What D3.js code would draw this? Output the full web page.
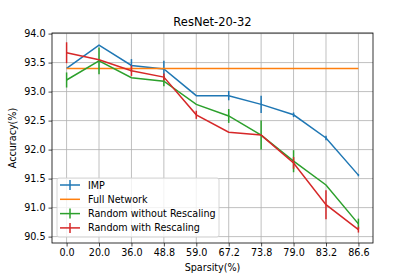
<!DOCTYPE html>
<html><head><meta charset="utf-8">
<script src="https://cdn.jsdelivr.net/npm/d3@7"></script>
<style>body{margin:0;background:#fff}svg{display:block;font-family:"DejaVu Sans",sans-serif}</style>
</head><body><svg id="c" width="415" height="277"></svg>
<script>
const categories = ["0.0","20.0","36.0","48.8","59.0","67.2","73.8","79.0","83.2","86.6"];
const impValues = [93.40,93.80,93.45,93.39,92.93,92.93,92.78,92.60,92.20,91.56];
const impErrors = [0,0,0.11,0.14,0,0.08,0.15,0.04,0.04,0.02];
const fullValues = [93.40,93.40,93.40,93.40,93.40,93.40,93.40,93.40,93.40,93.40];
const noRescaleValues = [93.20,93.53,93.24,93.18,92.78,92.58,92.25,91.80,91.39,90.72];
const noRescaleErrors = [0.13,0.23,0,0.09,0,0.12,0.25,0.19,0,0.09];
const rescaleValues = [93.67,93.55,93.36,93.25,92.60,92.30,92.25,91.77,91.05,90.62];
const rescaleErrors = [0.18,0,0.09,0.06,0.07,0,0,0.10,0.25,0.05];
const yTicks = [90.5,91.0,91.5,92.0,92.5,93.0,93.5,94.0];

const series = [
  {name:"IMP", color:"#1f77b4", values:impValues, errors:impErrors, bars:true},
  {name:"Full Network", color:"#ff7f0e", values:fullValues, errors:null, bars:false},
  {name:"Random without Rescaling", color:"#2ca02c", values:noRescaleValues, errors:noRescaleErrors, bars:true},
  {name:"Random with Rescaling", color:"#d62728", values:rescaleValues, errors:rescaleErrors, bars:true}
];

const svg = d3.select("#c");
const L=52, R=373, T=33, B=243;
const x = d3.scaleLinear().domain([-0.45, 9.45]).range([L,R]);
const y = d3.scaleLinear().domain([90.39, 94.01]).range([B,T]);

// grid
const g = svg.append("g");
g.selectAll(".vg").data(categories).join("line")
  .attr("x1",(d,i)=>x(i)).attr("x2",(d,i)=>x(i)).attr("y1",T).attr("y2",B)
  .attr("stroke","#b0b0b0").attr("stroke-width",0.8);
g.selectAll(".hg").data(yTicks).join("line")
  .attr("x1",L).attr("x2",R).attr("y1",d=>y(d)).attr("y2",d=>y(d))
  .attr("stroke","#b0b0b0").attr("stroke-width",0.8);

// series
const line = d3.line().x((d,i)=>x(i)).y(d=>y(d));
series.forEach(s=>{
  svg.append("path").datum(s.values).attr("d",line).attr("fill","none")
    .attr("stroke",s.color).attr("stroke-width",1.5);
  if(s.errors){
    svg.append("g").selectAll("line").data(s.values).join("line")
      .attr("x1",(d,i)=>x(i)).attr("x2",(d,i)=>x(i))
      .attr("y1",(d,i)=>y(d-s.errors[i])).attr("y2",(d,i)=>y(d+s.errors[i]))
      .attr("stroke",s.color).attr("stroke-width",1.5);
  }
});

// axes
const xAxis = d3.axisBottom(x).tickValues(d3.range(categories.length)).tickFormat(i=>categories[i]).tickSize(3.5).tickPadding(3);
const yAxis = d3.axisLeft(y).tickValues(yTicks).tickFormat(d3.format(".1f")).tickSize(3.5).tickPadding(3);
const xa = svg.append("g").attr("transform",`translate(0,${B})`).call(xAxis);
const ya = svg.append("g").attr("transform",`translate(${L},0)`).call(yAxis);
[xa,ya].forEach(a=>{
  a.select(".domain").remove();
  a.selectAll("text").attr("font-size",9.6).attr("fill","#000").attr("font-family","DejaVu Sans");
  a.selectAll(".tick line").attr("stroke","#000").attr("stroke-width",0.7);
});
svg.append("rect").attr("x",L).attr("y",T).attr("width",R-L).attr("height",B-T)
  .attr("fill","none").attr("stroke","#000").attr("stroke-width",0.8);

// labels
svg.append("text").attr("x",(L+R)/2).attr("y",26).attr("text-anchor","middle")
  .attr("font-size",11.5).text("ResNet-20-32");
svg.append("text").attr("x",(L+R)/2).attr("y",271).attr("text-anchor","middle")
  .attr("font-size",9.6).text("Sparsity(%)");
svg.append("text").attr("transform",`translate(16,${(T+B)/2}) rotate(-90)`).attr("text-anchor","middle")
  .attr("font-size",9.6).text("Accuracy(%)");

// legend
const lg = svg.append("g");
lg.append("rect").attr("x",57).attr("y",178).attr("width",162).attr("height",59).attr("rx",2)
  .attr("fill","#fff").attr("fill-opacity",0.8).attr("stroke","#cccccc").attr("stroke-width",0.8);
series.forEach((s,i)=>{
  const yy = 185 + i*14.3;
  lg.append("line").attr("x1",60).attr("x2",80).attr("y1",yy).attr("y2",yy)
    .attr("stroke",s.color).attr("stroke-width",1.5);
  if(s.bars) lg.append("line").attr("x1",70).attr("x2",70).attr("y1",yy-5).attr("y2",yy+5)
    .attr("stroke",s.color).attr("stroke-width",1.5);
  lg.append("text").attr("x",88).attr("y",yy+3.5).attr("font-size",9.6).text(s.name);
});
</script></body></html>
